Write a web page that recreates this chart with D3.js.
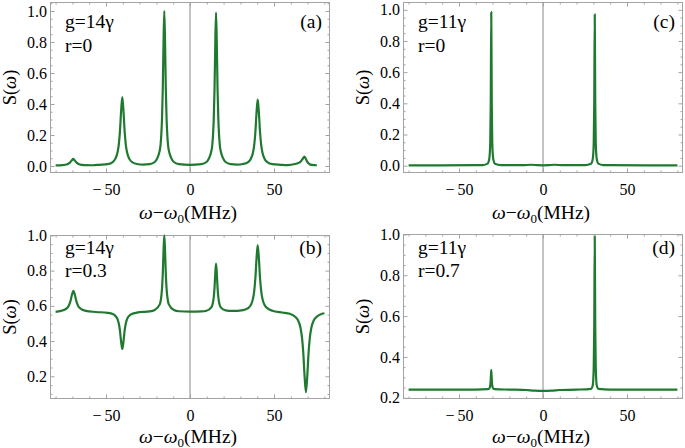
<!DOCTYPE html>
<html><head><meta charset="utf-8">
<script src="https://cdn.jsdelivr.net/npm/d3@7"></script>
<style>body{margin:0;background:#fff}svg{display:block}text{font-family:"Liberation Serif","Times New Roman",serif}</style>
</head><body>
<svg id="chart" width="685" height="448"></svg>
<script>
// ---------- data ----------
// Panel (a): g=14γ, r=0
const freqA = [-80,-76,-73,-71.5,-70.4,-69.5,-68.6,-67.5,-66,-63,-58,-54,
  -49,-46,-44.5,-43.1,-42.4,-41.7,-41.0,-40.3,-39.6,-38.9,-38.2,-37.5,-36.1,-34.6,-31.6,-28,
  -24,-21,-18,-17.1,-16.65,-16.2,-15.75,-15.3,-14.85,-14.4,-13.95,-13.5,-12.6,-9.6,-6.6,0,
  6.8,9.8,12.8,13.7,14.15,14.6,15.05,15.5,15.95,16.4,16.85,17.3,18.2,21.2,24.2,
  28,31.6,34.6,36.1,37.5,38.2,38.9,39.6,40.3,41.0,41.7,42.4,43.1,44.5,46,49,
  54,58,62.5,65.5,67,68.1,69,69.9,71,72.5,75.5,80];
const specA = [0.004,0.006,0.012,0.022,0.036,0.046,0.036,0.022,0.012,0.006,0.005,0.008,
  0.012,0.025,0.046,0.09,0.137,0.223,0.356,0.445,0.356,0.223,0.137,0.09,0.046,0.026,0.013,0.009,
  0.012,0.026,0.1,0.2,0.308,0.5,0.8,1.0,0.8,0.5,0.308,0.2,0.1,0.026,0.012,0.007,
  0.012,0.026,0.1,0.2,0.306,0.496,0.79,0.99,0.79,0.496,0.306,0.2,0.1,0.026,0.012,
  0.009,0.013,0.025,0.044,0.087,0.133,0.216,0.345,0.43,0.345,0.216,0.133,0.087,0.044,0.025,0.012,
  0.008,0.006,0.013,0.025,0.045,0.06,0.045,0.025,0.013,0.007,0.005];

// Panel (b): g=14γ, r=0.3
const freqB = [-80,-75.5,-73,-72.1,-71.2,-70.3,-69.4,-68.5,-67.6,-66.7,-65.8,-62,-56,
  -49,-46,-44.5,-43.1,-42.4,-41.7,-41.0,-40.3,-39.6,-38.9,-38.2,-37.5,-36.1,-34.6,-31.6,-27,
  -24,-21,-18,-17.1,-16.65,-16.2,-15.75,-15.3,-14.85,-14.4,-13.95,-13.5,-12.6,-9.6,-6.6,0,
  6.8,9.8,12.8,13.7,14.15,14.6,15.05,15.5,15.95,16.4,16.85,17.3,18.2,21.2,25,
  31.6,34.6,36.1,37.5,38.2,38.9,39.6,40.3,41.0,41.7,42.4,43.1,44.5,46,49,
  55,59.4,62.6,64.2,65.8,66.6,67.4,68.2,69,69.8,70.6,71.4,72.2,73.8,75.4,78.6,80];
const specB = [0.566,0.575,0.589,0.602,0.625,0.661,0.685,0.661,0.625,0.602,0.589,0.571,0.565,
  0.56,0.553,0.544,0.523,0.5,0.46,0.397,0.355,0.397,0.46,0.5,0.523,0.544,0.553,0.561,0.566,
  0.568,0.576,0.608,0.652,0.699,0.782,0.913,1.0,0.913,0.782,0.699,0.652,0.608,0.576,0.569,0.567,
  0.568,0.572,0.593,0.62,0.65,0.703,0.785,0.84,0.785,0.703,0.65,0.62,0.593,0.574,0.571,
  0.576,0.587,0.603,0.641,0.682,0.755,0.869,0.945,0.869,0.755,0.682,0.641,0.603,0.587,0.572,
  0.562,0.555,0.538,0.52,0.474,0.425,0.3375,0.201,0.11,0.201,0.3375,0.425,0.474,0.52,0.538,0.555,0.558];

// Panel (c): g=11γ, r=0
const freqC = [-80,-40,-35.8,-33,-32,-31.4,-31.1,-30.8,-30.5,-30.2,-29.6,-28.6,-25,-12,-7,-3,0,
  3,7,12,25,28.6,29.6,30.2,30.5,30.8,31.1,31.4,32,33,35.8,40,80];
const specC = [0.002,0.003,0.004,0.013,0.042,0.145,0.4,0.985,0.4,0.145,0.042,0.013,0.004,0.003,0.006,0.003,0.002,
  0.003,0.006,0.003,0.004,0.013,0.042,0.145,0.4,0.97,0.4,0.145,0.042,0.013,0.004,0.003,0.002];

// Panel (d): g=11γ, r=0.7
const freqD = [-80,-40,-33,-32,-31.4,-31.1,-30.8,-30.5,-30.2,-29.6,-28.6,-20,-10,-5,0,
  5,10,20,28.6,29.6,30.2,30.5,30.8,31.1,31.4,32,33,40,80];
const specD = [0.24,0.24,0.242,0.245,0.26,0.29,0.337,0.29,0.26,0.245,0.242,0.24,0.238,0.235,0.234,
  0.235,0.238,0.24,0.244,0.26,0.35,0.55,0.99,0.55,0.35,0.26,0.244,0.24,0.24];

// ---------- tick values / labels ----------
const xTickValues = [-50, 0, 50];
const xTickLabels = ["\u2212\u200950", "0", "50"];
const yTickValuesAC = [0, 0.2, 0.4, 0.6, 0.8, 1.0];
const yTickLabelsAC = ["0.0", "0.2", "0.4", "0.6", "0.8", "1.0"];
const yTickValuesBD = [0.2, 0.4, 0.6, 0.8, 1.0];
const yTickLabelsBD = ["0.2", "0.4", "0.6", "0.8", "1.0"];
const panelTags = ["(a)", "(b)", "(c)", "(d)"];
const couplingLabels = ["g=14\u03b3", "g=14\u03b3", "g=11\u03b3", "g=11\u03b3"];
const ratioLabels = ["r=0", "r=0.3", "r=0", "r=0.7"];

// ---------- layout ----------
const FONT = "'Liberation Serif','Times New Roman',serif";
const frameColor = "#a3a3a3";
const lineColor = "#1f7a30";
const panels = [
  {freq: freqA, spec: specA, x0: 50, x1: 330, y0: 2, y1: 173, yDom: [-0.045, 1.058],
   yt: yTickValuesAC, yl: yTickLabelsAC, textY: [28, 51.5]},
  {freq: freqB, spec: specB, x0: 50, x1: 330, y0: 235, y1: 399, yDom: [0.071, 1.002],
   yt: yTickValuesBD, yl: yTickLabelsBD, textY: [254, 277]},
  {freq: freqC, spec: specC, x0: 403, x1: 683, y0: 2, y1: 173, yDom: [-0.047, 1.05],
   yt: yTickValuesAC, yl: yTickLabelsAC, textY: [28, 51.5]},
  {freq: freqD, spec: specD, x0: 403, x1: 683, y0: 234, y1: 399, yDom: [0.194, 1.002],
   yt: yTickValuesBD, yl: yTickLabelsBD, textY: [253.5, 277]}
];

const svg = d3.select("#chart");

panels.forEach((p, i) => {
  const x = d3.scaleLinear().domain([-83.33, 83.33]).range([p.x0, p.x1]);
  const y = d3.scaleLinear().domain(p.yDom).range([p.y1, p.y0]);
  const g = svg.append("g");
  const w = p.x1 - p.x0, h = p.y1 - p.y0;

  const clipId = "clip" + i;
  svg.append("clipPath").attr("id", clipId).append("rect")
    .attr("x", p.x0).attr("y", p.y0 - 1).attr("width", w).attr("height", h + 1);

  // zero axis line
  g.append("line").attr("x1", x(0)).attr("x2", x(0)).attr("y1", p.y0).attr("y2", p.y1)
    .attr("stroke", "#8a8a8a").attr("stroke-width", 1);

  // minor tick positions
  const xMinor = d3.range(-80, 81, 10).filter(v => v % 50 !== 0);
  const yMinor = d3.range(-0.1, 1.1, 0.05).map(v => +v.toFixed(2))
    .filter(v => v >= p.yDom[0] && v <= p.yDom[1] && Math.abs(v * 5 - Math.round(v * 5)) > 1e-6);

  function styleAxis(sel) {
    sel.attr("font-family", null).attr("font-size", null);
    sel.select(".domain").remove();
    sel.selectAll(".tick line").attr("stroke", frameColor).attr("stroke-width", 1);
    sel.selectAll(".tick text").attr("fill", "#000").style("font-family", FONT).style("font-size", "16px");
  }
  const fmtX = (d) => xTickLabels[xTickValues.indexOf(d)];
  const fmtY = (d) => p.yl[p.yt.indexOf(d)];

  // bottom
  g.append("g").attr("transform", `translate(0,${p.y1})`)
    .call(d3.axisBottom(x).tickValues(xTickValues).tickFormat(fmtX).tickSizeInner(-4.5).tickSizeOuter(0).tickPadding(10.6))
    .call(styleAxis);
  g.append("g").attr("transform", `translate(0,${p.y1})`)
    .call(d3.axisBottom(x).tickValues(xMinor).tickFormat("").tickSizeInner(-2.5).tickSizeOuter(0))
    .call(styleAxis);
  // top
  g.append("g").attr("transform", `translate(0,${p.y0})`)
    .call(d3.axisTop(x).tickValues(xTickValues).tickFormat("").tickSizeInner(-4.5).tickSizeOuter(0))
    .call(styleAxis);
  g.append("g").attr("transform", `translate(0,${p.y0})`)
    .call(d3.axisTop(x).tickValues(xMinor).tickFormat("").tickSizeInner(-2.5).tickSizeOuter(0))
    .call(styleAxis);
  // left
  g.append("g").attr("transform", `translate(${p.x0},0)`)
    .call(d3.axisLeft(y).tickValues(p.yt).tickFormat(fmtY).tickSizeInner(-4.5).tickSizeOuter(0).tickPadding(3))
    .call(styleAxis);
  g.append("g").attr("transform", `translate(${p.x0},0)`)
    .call(d3.axisLeft(y).tickValues(yMinor).tickFormat("").tickSizeInner(-2.5).tickSizeOuter(0))
    .call(styleAxis);
  // right
  g.append("g").attr("transform", `translate(${p.x1},0)`)
    .call(d3.axisRight(y).tickValues(p.yt).tickFormat("").tickSizeInner(-4.5).tickSizeOuter(0))
    .call(styleAxis);
  g.append("g").attr("transform", `translate(${p.x1},0)`)
    .call(d3.axisRight(y).tickValues(yMinor).tickFormat("").tickSizeInner(-2.5).tickSizeOuter(0))
    .call(styleAxis);

  // frame
  g.append("rect").attr("x", p.x0 + 0.5).attr("y", p.y0 + 0.5).attr("width", w - 1).attr("height", h - 1)
    .attr("fill", "none").attr("stroke", frameColor).attr("stroke-width", 1);

  // curve
  const pts = p.freq.map((f, k) => [f, p.spec[k]]);
  g.append("path").datum(pts)
    .attr("clip-path", `url(#${clipId})`)
    .attr("fill", "none").attr("stroke", lineColor).attr("stroke-width", 2.2)
    .attr("stroke-linejoin", "round")
    .attr("d", d3.line().x(d => x(d[0])).y(d => y(d[1])).curve(d3.curveMonotoneX));

  // annotations
  const t = g.append("g").style("font-family", FONT).style("font-size", "19.5px").attr("fill", "#000");
  t.append("text").attr("x", p.x0 + 15).attr("y", p.textY[0]).text(couplingLabels[i]);
  t.append("text").attr("x", p.x0 + 15).attr("y", p.textY[1]).text(ratioLabels[i]);
  t.append("text").attr("x", p.x1 - 8).attr("y", p.textY[0]).attr("text-anchor", "end").text(panelTags[i]);

  // x label
  const xl = g.append("text").attr("x", (p.x0 + p.x1) / 2 - 2).attr("y", i % 2 === 0 ? p.y1 + 46 : p.y1 + 43.5)
    .attr("text-anchor", "middle").style("font-family", FONT).style("font-size", "19.5px");
  xl.append("tspan").style("font-style", "italic").text("\u03c9");
  xl.append("tspan").text("\u2212");
  xl.append("tspan").style("font-style", "italic").text("\u03c9");
  xl.append("tspan").attr("dy", 4).style("font-size", "13px").text("0");
  xl.append("tspan").attr("dy", -4).text("(MHz)");

  // y label
  const yl = g.append("text")
    .attr("transform", `translate(${p.x0 - 34},${(p.y0 + p.y1) / 2}) rotate(-90)`)
    .attr("text-anchor", "middle").style("font-family", FONT).style("font-size", "18.5px");
  yl.append("tspan").text("S(");
  yl.append("tspan").style("font-style", "italic").text("\u03c9");
  yl.append("tspan").text(")");
});
</script>
</body></html>
